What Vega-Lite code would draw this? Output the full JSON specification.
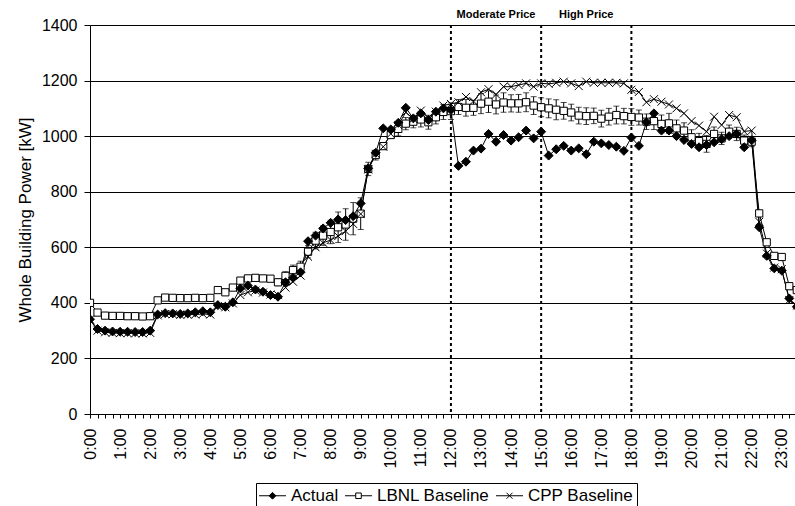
{
  "$schema": "https://vega.github.io/schema/vega-lite/v6.json",
  "width": 705,
  "height": 389,
  "autosize": {"type": "none"},
  "padding": {"left": 90, "top": 25, "right": 0, "bottom": 92},
  "background": "white",
  "config": {"view": {"stroke": null}, "font": "Liberation Sans"},
  "data": {"values": [
    {"h":0,"Actual":341,"LBNL Baseline":400,"err":6,"CPP Baseline":340},
    {"h":0.25,"Actual":306,"LBNL Baseline":365,"err":6,"CPP Baseline":300},
    {"h":0.5,"Actual":300,"LBNL Baseline":354,"err":6,"CPP Baseline":294},
    {"h":0.75,"Actual":297,"LBNL Baseline":353,"err":6,"CPP Baseline":292},
    {"h":1,"Actual":296,"LBNL Baseline":353,"err":6,"CPP Baseline":291},
    {"h":1.25,"Actual":296,"LBNL Baseline":352,"err":6,"CPP Baseline":291},
    {"h":1.5,"Actual":295,"LBNL Baseline":352,"err":6,"CPP Baseline":290},
    {"h":1.75,"Actual":295,"LBNL Baseline":351,"err":6,"CPP Baseline":290},
    {"h":2,"Actual":300,"LBNL Baseline":352,"err":6,"CPP Baseline":292},
    {"h":2.25,"Actual":358,"LBNL Baseline":409,"err":6,"CPP Baseline":355},
    {"h":2.5,"Actual":363,"LBNL Baseline":419,"err":6,"CPP Baseline":360},
    {"h":2.75,"Actual":362,"LBNL Baseline":418,"err":6,"CPP Baseline":359},
    {"h":3,"Actual":360,"LBNL Baseline":417,"err":6,"CPP Baseline":357},
    {"h":3.25,"Actual":362,"LBNL Baseline":417,"err":6,"CPP Baseline":358},
    {"h":3.5,"Actual":366,"LBNL Baseline":418,"err":6,"CPP Baseline":358},
    {"h":3.75,"Actual":370,"LBNL Baseline":417,"err":6,"CPP Baseline":360},
    {"h":4,"Actual":366,"LBNL Baseline":418,"err":6,"CPP Baseline":358},
    {"h":4.25,"Actual":392,"LBNL Baseline":446,"err":8,"CPP Baseline":388},
    {"h":4.5,"Actual":386,"LBNL Baseline":438,"err":8,"CPP Baseline":384},
    {"h":4.75,"Actual":402,"LBNL Baseline":455,"err":8,"CPP Baseline":398},
    {"h":5,"Actual":452,"LBNL Baseline":480,"err":8,"CPP Baseline":428},
    {"h":5.25,"Actual":462,"LBNL Baseline":488,"err":8,"CPP Baseline":438},
    {"h":5.5,"Actual":448,"LBNL Baseline":490,"err":8,"CPP Baseline":444},
    {"h":5.75,"Actual":440,"LBNL Baseline":488,"err":8,"CPP Baseline":437},
    {"h":6,"Actual":428,"LBNL Baseline":487,"err":10,"CPP Baseline":430},
    {"h":6.25,"Actual":422,"LBNL Baseline":474,"err":12,"CPP Baseline":428},
    {"h":6.5,"Actual":474,"LBNL Baseline":497,"err":15,"CPP Baseline":455},
    {"h":6.75,"Actual":490,"LBNL Baseline":518,"err":18,"CPP Baseline":476},
    {"h":7,"Actual":510,"LBNL Baseline":530,"err":20,"CPP Baseline":498},
    {"h":7.25,"Actual":622,"LBNL Baseline":584,"err":22,"CPP Baseline":566},
    {"h":7.5,"Actual":642,"LBNL Baseline":624,"err":30,"CPP Baseline":600},
    {"h":7.75,"Actual":668,"LBNL Baseline":642,"err":35,"CPP Baseline":616},
    {"h":8,"Actual":688,"LBNL Baseline":655,"err":42,"CPP Baseline":626},
    {"h":8.25,"Actual":700,"LBNL Baseline":672,"err":55,"CPP Baseline":640},
    {"h":8.5,"Actual":698,"LBNL Baseline":682,"err":57,"CPP Baseline":658},
    {"h":8.75,"Actual":712,"LBNL Baseline":703,"err":58,"CPP Baseline":684},
    {"h":9,"Actual":758,"LBNL Baseline":721,"err":57,"CPP Baseline":720},
    {"h":9.25,"Actual":884,"LBNL Baseline":882,"err":24,"CPP Baseline":880},
    {"h":9.5,"Actual":940,"LBNL Baseline":932,"err":18,"CPP Baseline":936},
    {"h":9.75,"Actual":1028,"LBNL Baseline":964,"err":12,"CPP Baseline":962},
    {"h":10,"Actual":1024,"LBNL Baseline":1004,"err":12,"CPP Baseline":1008},
    {"h":10.25,"Actual":1048,"LBNL Baseline":1026,"err":25,"CPP Baseline":1040},
    {"h":10.5,"Actual":1102,"LBNL Baseline":1045,"err":22,"CPP Baseline":1086},
    {"h":10.75,"Actual":1064,"LBNL Baseline":1052,"err":22,"CPP Baseline":1062},
    {"h":11,"Actual":1082,"LBNL Baseline":1060,"err":27,"CPP Baseline":1092},
    {"h":11.25,"Actual":1058,"LBNL Baseline":1050,"err":25,"CPP Baseline":1066},
    {"h":11.5,"Actual":1088,"LBNL Baseline":1068,"err":24,"CPP Baseline":1088},
    {"h":11.75,"Actual":1100,"LBNL Baseline":1087,"err":27,"CPP Baseline":1110},
    {"h":12,"Actual":1094,"LBNL Baseline":1090,"err":30,"CPP Baseline":1116},
    {"h":12.25,"Actual":893,"LBNL Baseline":1105,"err":27,"CPP Baseline":1122},
    {"h":12.5,"Actual":908,"LBNL Baseline":1102,"err":30,"CPP Baseline":1141},
    {"h":12.75,"Actual":948,"LBNL Baseline":1102,"err":27,"CPP Baseline":1126},
    {"h":13,"Actual":955,"LBNL Baseline":1117,"err":36,"CPP Baseline":1158},
    {"h":13.25,"Actual":1008,"LBNL Baseline":1124,"err":39,"CPP Baseline":1169},
    {"h":13.5,"Actual":980,"LBNL Baseline":1114,"err":34,"CPP Baseline":1150},
    {"h":13.75,"Actual":1004,"LBNL Baseline":1121,"err":35,"CPP Baseline":1178},
    {"h":14,"Actual":984,"LBNL Baseline":1118,"err":31,"CPP Baseline":1178},
    {"h":14.25,"Actual":996,"LBNL Baseline":1118,"err":32,"CPP Baseline":1184},
    {"h":14.5,"Actual":1020,"LBNL Baseline":1122,"err":34,"CPP Baseline":1190},
    {"h":14.75,"Actual":992,"LBNL Baseline":1110,"err":32,"CPP Baseline":1178},
    {"h":15,"Actual":1016,"LBNL Baseline":1104,"err":34,"CPP Baseline":1190},
    {"h":15.25,"Actual":930,"LBNL Baseline":1100,"err":34,"CPP Baseline":1188},
    {"h":15.5,"Actual":953,"LBNL Baseline":1095,"err":36,"CPP Baseline":1192},
    {"h":15.75,"Actual":965,"LBNL Baseline":1091,"err":30,"CPP Baseline":1196},
    {"h":16,"Actual":948,"LBNL Baseline":1085,"err":30,"CPP Baseline":1190},
    {"h":16.25,"Actual":956,"LBNL Baseline":1074,"err":30,"CPP Baseline":1180},
    {"h":16.5,"Actual":935,"LBNL Baseline":1072,"err":30,"CPP Baseline":1196},
    {"h":16.75,"Actual":980,"LBNL Baseline":1073,"err":28,"CPP Baseline":1192},
    {"h":17,"Actual":974,"LBNL Baseline":1063,"err":30,"CPP Baseline":1192},
    {"h":17.25,"Actual":968,"LBNL Baseline":1070,"err":30,"CPP Baseline":1192},
    {"h":17.5,"Actual":962,"LBNL Baseline":1076,"err":32,"CPP Baseline":1192},
    {"h":17.75,"Actual":947,"LBNL Baseline":1072,"err":28,"CPP Baseline":1190},
    {"h":18,"Actual":995,"LBNL Baseline":1069,"err":30,"CPP Baseline":1167},
    {"h":18.25,"Actual":965,"LBNL Baseline":1067,"err":27,"CPP Baseline":1159},
    {"h":18.5,"Actual":1050,"LBNL Baseline":1052,"err":28,"CPP Baseline":1122},
    {"h":18.75,"Actual":1082,"LBNL Baseline":1054,"err":30,"CPP Baseline":1133},
    {"h":19,"Actual":1020,"LBNL Baseline":1044,"err":32,"CPP Baseline":1124},
    {"h":19.25,"Actual":1020,"LBNL Baseline":1046,"err":36,"CPP Baseline":1114},
    {"h":19.5,"Actual":1000,"LBNL Baseline":1028,"err":30,"CPP Baseline":1100},
    {"h":19.75,"Actual":986,"LBNL Baseline":1020,"err":28,"CPP Baseline":1082},
    {"h":20,"Actual":972,"LBNL Baseline":996,"err":27,"CPP Baseline":1054},
    {"h":20.25,"Actual":960,"LBNL Baseline":982,"err":28,"CPP Baseline":1038},
    {"h":20.5,"Actual":968,"LBNL Baseline":972,"err":30,"CPP Baseline":1016},
    {"h":20.75,"Actual":978,"LBNL Baseline":1008,"err":25,"CPP Baseline":1070},
    {"h":21,"Actual":989,"LBNL Baseline":992,"err":22,"CPP Baseline":1040},
    {"h":21.25,"Actual":1000,"LBNL Baseline":1016,"err":24,"CPP Baseline":1076},
    {"h":21.5,"Actual":1008,"LBNL Baseline":1008,"err":24,"CPP Baseline":1068},
    {"h":21.75,"Actual":960,"LBNL Baseline":984,"err":20,"CPP Baseline":1017},
    {"h":22,"Actual":985,"LBNL Baseline":980,"err":18,"CPP Baseline":1020},
    {"h":22.25,"Actual":672,"LBNL Baseline":722,"err":8,"CPP Baseline":692},
    {"h":22.5,"Actual":569,"LBNL Baseline":618,"err":6,"CPP Baseline":578},
    {"h":22.75,"Actual":524,"LBNL Baseline":569,"err":6,"CPP Baseline":527},
    {"h":23,"Actual":516,"LBNL Baseline":565,"err":6,"CPP Baseline":521},
    {"h":23.25,"Actual":416,"LBNL Baseline":460,"err":5,"CPP Baseline":410},
    {"h":23.5,"Actual":386,"LBNL Baseline":446,"err":5,"CPP Baseline":390},
    {"h":23.75,"Actual":370,"LBNL Baseline":420,"err":5,"CPP Baseline":375}
  ]},
  "encoding": {
    "x": {
      "field": "h",
      "type": "quantitative",
      "title": null,
      "scale": {"domain": [0, 23.44], "nice": false, "zero": false},
      "axis": {
        "values": [0,0.25,0.5,0.75,1,1.25,1.5,1.75,2,2.25,2.5,2.75,3,3.25,3.5,3.75,4,4.25,4.5,4.75,5,5.25,5.5,5.75,6,6.25,6.5,6.75,7,7.25,7.5,7.75,8,8.25,8.5,8.75,9,9.25,9.5,9.75,10,10.25,10.5,10.75,11,11.25,11.5,11.75,12,12.25,12.5,12.75,13,13.25,13.5,13.75,14,14.25,14.5,14.75,15,15.25,15.5,15.75,16,16.25,16.5,16.75,17,17.25,17.5,17.75,18,18.25,18.5,18.75,19,19.25,19.5,19.75,20,20.25,20.5,20.75,21,21.25,21.5,21.75,22,22.25,22.5,22.75,23,23.25],
        "labelExpr": "datum.value % 1 === 0 ? datum.value + ':00' : ''",
        "labelAngle": -90,
        "labelFontSize": 16,
        "labelFont": "Liberation Sans",
        "labelColor": "black",
        "labelPadding": 10,
        "labelOverlap": false,
        "labelFlush": false,
        "labelBound": false,
        "grid": false,
        "tickSize": 4,
        "tickColor": "black",
        "domainColor": "black",
        "domainWidth": 1
      }
    }
  },
  "layer": [
    {
      "data": {"values": [{"h": 12}, {"h": 15}, {"h": 18}]},
      "mark": {"type": "rule", "color": "black", "strokeWidth": 2, "strokeDash": [3, 3]},
      "encoding": {}
    },
    {
      "mark": {"type": "errorbar", "ticks": {"size": 6, "color": "black", "strokeWidth": 1}, "rule": {"color": "black", "strokeWidth": 1}, "clip": true},
      "encoding": {
        "y": {"field": "LBNL Baseline", "type": "quantitative", "title": "Whole Building Power [kW]", "scale": {"domain": [0, 1400], "nice": false},
          "axis": {"values": [0, 200, 400, 600, 800, 1000, 1200, 1400], "format": "d", "grid": true, "gridColor": "black", "gridOpacity": 1, "gridWidth": 1, "domainColor": "black", "tickColor": "black", "tickSize": 6, "labelFontSize": 16, "labelFont": "Liberation Sans", "labelColor": "black", "labelPadding": 7, "titleFontSize": 17, "titleFont": "Liberation Sans", "titleFontWeight": "normal", "titleColor": "black", "titlePadding": 7}},
        "yError": {"field": "err"}
      }
    },
    {
      "transform": [{"fold": ["Actual", "LBNL Baseline", "CPP Baseline"], "as": ["series", "kW"]}],
      "mark": {"type": "line", "strokeWidth": 1, "clip": true},
      "encoding": {
        "y": {"field": "kW", "type": "quantitative", "title": "Whole Building Power [kW]", "scale": {"domain": [0, 1400], "nice": false},
          "axis": {"values": [0, 200, 400, 600, 800, 1000, 1200, 1400], "format": "d", "grid": true, "gridColor": "black", "gridOpacity": 1, "gridWidth": 1, "domainColor": "black", "tickColor": "black", "tickSize": 6, "labelFontSize": 16, "labelFont": "Liberation Sans", "labelColor": "black", "labelPadding": 7, "titleFontSize": 17, "titleFont": "Liberation Sans", "titleFontWeight": "normal", "titleColor": "black", "titlePadding": 7}},
        "stroke": {
          "field": "series",
          "type": "nominal",
          "scale": {"domain": ["Actual", "LBNL Baseline", "CPP Baseline"], "range": ["black", "black", "black"]},
          "legend": {
            "title": null,
            "orient": "none",
            "legendX": 166,
            "legendY": 458,
            "direction": "horizontal",
            "strokeColor": "black",
            "fillColor": "white",
            "padding": 4,
            "symbolSize": 225,
            "symbolOffset": 4,
            "symbolStrokeWidth": 1,
            "labelFont": "Liberation Sans",
            "labelFontSize": 17,
            "labelColor": "black",
            "labelOffset": 10,
            "columnPadding": 4,
            "encode": {
              "symbols": {
                "update": {
                  "shape": {"signal": "datum.value === 'Actual' ? 'M-1.8,0L1.8,0M0,-0.45L0.45,0L0,0.45L-0.45,0Z' : datum.value === 'LBNL Baseline' ? 'M-1.8,0L-0.37,0M0.37,0L1.8,0M-0.37,-0.37L0.37,-0.37L0.37,0.37L-0.37,0.37Z' : 'M-1.8,0L1.8,0M-0.4,-0.4L0.4,0.4M0.4,-0.4L-0.4,0.4'"},
                  "fill": {"signal": "datum.value === 'Actual' ? 'black' : datum.value === 'LBNL Baseline' ? 'white' : 'transparent'"},
                  "strokeWidth": {"value": 1},
                  "opacity": {"value": 1}
                }
              }
            }
          }
        }
      }
    },
    {
      "transform": [{"fold": ["LBNL Baseline"], "as": ["series", "kW"]}],
      "mark": {"type": "point", "shape": "square", "size": 52, "filled": true, "fill": "white", "stroke": "black", "strokeWidth": 1, "opacity": 1, "clip": true},
      "encoding": {
        "y": {"field": "kW", "type": "quantitative", "title": "Whole Building Power [kW]", "scale": {"domain": [0, 1400], "nice": false},
          "axis": {"values": [0, 200, 400, 600, 800, 1000, 1200, 1400], "format": "d", "grid": true, "gridColor": "black", "gridOpacity": 1, "gridWidth": 1, "domainColor": "black", "tickColor": "black", "tickSize": 6, "labelFontSize": 16, "labelFont": "Liberation Sans", "labelColor": "black", "labelPadding": 7, "titleFontSize": 17, "titleFont": "Liberation Sans", "titleFontWeight": "normal", "titleColor": "black", "titlePadding": 7}}
      }
    },
    {
      "transform": [{"fold": ["Actual"], "as": ["series", "kW"]}],
      "mark": {"type": "point", "shape": "diamond", "size": 80, "filled": true, "fill": "black", "stroke": "black", "strokeWidth": 1, "opacity": 1, "clip": true},
      "encoding": {
        "y": {"field": "kW", "type": "quantitative", "title": "Whole Building Power [kW]", "scale": {"domain": [0, 1400], "nice": false},
          "axis": {"values": [0, 200, 400, 600, 800, 1000, 1200, 1400], "format": "d", "grid": true, "gridColor": "black", "gridOpacity": 1, "gridWidth": 1, "domainColor": "black", "tickColor": "black", "tickSize": 6, "labelFontSize": 16, "labelFont": "Liberation Sans", "labelColor": "black", "labelPadding": 7, "titleFontSize": 17, "titleFont": "Liberation Sans", "titleFontWeight": "normal", "titleColor": "black", "titlePadding": 7}}
      }
    },
    {
      "transform": [{"fold": ["CPP Baseline"], "as": ["series", "kW"]}],
      "mark": {"type": "point", "shape": "M-1,-1L1,1M1,-1L-1,1", "size": 64, "filled": false, "stroke": "black", "strokeWidth": 1, "opacity": 1, "clip": true},
      "encoding": {
        "y": {"field": "kW", "type": "quantitative", "title": "Whole Building Power [kW]", "scale": {"domain": [0, 1400], "nice": false},
          "axis": {"values": [0, 200, 400, 600, 800, 1000, 1200, 1400], "format": "d", "grid": true, "gridColor": "black", "gridOpacity": 1, "gridWidth": 1, "domainColor": "black", "tickColor": "black", "tickSize": 6, "labelFontSize": 16, "labelFont": "Liberation Sans", "labelColor": "black", "labelPadding": 7, "titleFontSize": 17, "titleFont": "Liberation Sans", "titleFontWeight": "normal", "titleColor": "black", "titlePadding": 7}}
      }
    },
    {
      "data": {"values": [{"h": 13.5, "label": "Moderate Price"}, {"h": 16.5, "label": "High Price"}]},
      "mark": {"type": "text", "font": "Liberation Sans", "fontWeight": "bold", "fontSize": 11, "align": "center", "baseline": "middle", "color": "black"},
      "encoding": {
        "y": {"datum": 1436, "type": "quantitative", "title": "Whole Building Power [kW]", "scale": {"domain": [0, 1400], "nice": false},
          "axis": {"values": [0, 200, 400, 600, 800, 1000, 1200, 1400], "format": "d", "grid": true, "gridColor": "black", "gridOpacity": 1, "gridWidth": 1, "domainColor": "black", "tickColor": "black", "tickSize": 6, "labelFontSize": 16, "labelFont": "Liberation Sans", "labelColor": "black", "labelPadding": 7, "titleFontSize": 17, "titleFont": "Liberation Sans", "titleFontWeight": "normal", "titleColor": "black", "titlePadding": 7}},
        "text": {"field": "label"}
      }
    }
  ]
}
